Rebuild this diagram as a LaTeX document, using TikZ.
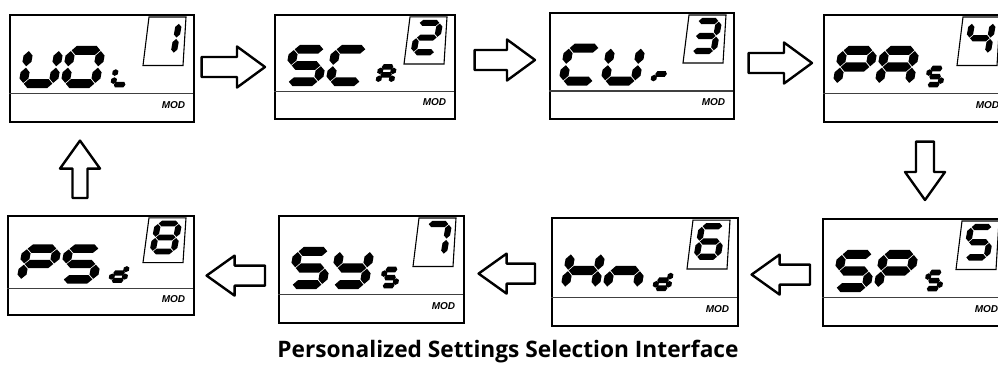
\documentclass[tikz,border=0pt]{standalone}
\usepackage{fontspec}
\setmainfont{Open Sans}
\newfontfamily\modfont{Liberation Sans}
\usetikzlibrary{calc,positioning}

\tikzset{
  lcdbox/.style={draw, line width=1.6pt, anchor=north west, inner sep=0pt},
  divider/.style={draw=black!75, line width=1.2pt},
  digitframe/.style={draw, line width=1.1pt},
  modtext/.style={font=\modfont\bfseries\itshape\fontsize{10}{10}\selectfont, inner sep=0pt},
  flowarrow/.style={draw, fill=white, line width=2.4pt, line join=round},
  caption/.style={font=\bfseries\fontsize{22.7}{27}\selectfont, inner sep=0pt}
}

% segment gap
\def\gp{0.7}
\newcommand{\hseg}[3]{\fill (#1+\gp,#3) -- (#1+\gp+\tp,#3-\st) -- (#2-\gp-\tp,#3-\st) -- (#2-\gp,#3) -- (#2-\gp-\tp,#3+\st) -- (#1+\gp+\tp,#3+\st) -- cycle;}
\newcommand{\vseg}[3]{\fill (#1,#2+\gp) -- (#1+\st,#2+\gp+\tp) -- (#1+\st,#3-\gp-\tp) -- (#1,#3-\gp) -- (#1-\st,#3-\gp-\tp) -- (#1-\st,#2+\gp+\tp) -- cycle;}
\def\lcdsega{\hseg{0}{\cw}{0}}
\def\lcdsegb{\vseg{\cw}{0}{\ch/2}}
\def\lcdsegc{\vseg{\cw}{\ch/2}{\ch}}
\def\lcdsegd{\hseg{0}{\cw}{\ch}}
\def\lcdsege{\vseg{0}{\ch/2}{\ch}}
\def\lcdsegf{\vseg{0}{0}{\ch/2}}
\def\lcdsegg{\hseg{0}{\cw}{\ch/2}}

% x, y, width, height, half thickness, tip length, segments
\newcommand{\lcdchar}[7]{%
  \begin{scope}[shift={(#1,#2)}, xslant=0.18]
    \def\cw{#3}\def\ch{#4}\def\st{#5}\def\tp{#6}
    \foreach \segname in {#7}{\csname lcdseg\segname\endcsname}
  \end{scope}}

% name, x, y, width, height, char 1, char 2, small char, digit
\newcommand{\lcdscreen}[9]{%
  \node[lcdbox, minimum width=#4, minimum height=#5] (#1) at (#2,#3) {};
  \begin{scope}[shift={(#1.north west)}, yscale=#5/106]
    \draw[divider] (0,79) -- (#4,79);
    \draw[digitframe] (#4-44,3) -- (#4-7,3) -- (#4-10,51) -- (#4-50,51) -- cycle;
    \lcdchar{20}{36}{30}{33}{4.5}{4.5}{#6}
    \lcdchar{62}{36}{30}{33}{4.5}{4.5}{#7}
    \lcdchar{107}{54}{13}{16}{2.8}{1.6}{#8}
    \lcdchar{#4-35}{9}{21}{30}{3.1}{3.1}{#9}
    \node[modtext] (#1mod) at (#4-19.5,90) {MOD};
  \end{scope}}

% tail, tip, shaft half width, head half width, head length
\newcommand{\fatarrow}[5]{%
  \coordinate (hb) at ($(#2)!#5!(#1)$);
  \draw[flowarrow] ($(#1)!#3!90:(#2)$) -- ($(hb)!#3!-90:(#1)$) -- ($(hb)!#4!-90:(#1)$) -- (#2)
    -- ($(hb)!#4!90:(#1)$) -- ($(hb)!#3!90:(#1)$) -- ($(#1)!#3!-90:(#2)$) -- cycle;}

\begin{document}
\begin{tikzpicture}[x=1pt, y=-1pt]
  \clip (0,0) rectangle (998,364);
  \fill[white] (0,0) rectangle (998,364);

  % Screens %
  \lcdscreen{s1}{9}{14}{184}{107}{b,c,d,e,f}{a,b,c,d,e,f}{d,e,f}{b,c}
  \lcdscreen{s2}{274}{14}{180}{104}{a,f,g,c,d}{a,f,e,d}{a,b,c,e,f,g}{a,b,g,e,d}
  \lcdscreen{s3}{549}{12}{184}{106}{a,f,e,d}{b,c,d,e,f}{e,g}{a,b,g,c,d}
  \lcdscreen{s4}{823}{14}{184}{107}{a,b,e,f,g}{a,b,c,e,f,g}{a,f,g,c,d}{f,g,b,c}
  \lcdscreen{s5}{822}{218}{184}{107}{a,f,g,c,d}{a,b,e,f,g}{a,f,g,c,d}{a,f,g,c,d}
  \lcdscreen{s6}{551}{217}{186}{108}{b,c,e,f,g}{c,e,g}{b,c,d,e,g}{a,f,g,e,c,d}
  \lcdscreen{s7}{278}{215}{185}{107}{a,f,g,c,d}{b,c,d,f,g}{a,f,g,c,d}{a,b,c}
  \lcdscreen{s8}{7}{215}{186}{99}{a,b,e,f,g}{a,f,g,c,d}{b,c,d,e,g}{a,b,c,d,e,f,g}

  % Arrows %
  \coordinate (t12) at ($(s1.north east)+(7,53)$);
  \coordinate (h12) at ($(s2.west|-t12)+(-9,0)$);
  \fatarrow{t12}{h12}{10pt}{20.5pt}{28pt}
  \coordinate (t23) at ($(s2.north east)+(19,46)$);
  \coordinate (h23) at ($(s3.west|-t23)+(-14,0)$);
  \fatarrow{t23}{h23}{10pt}{20.5pt}{28pt}
  \coordinate (t34) at ($(s3.north east)+(14,51)$);
  \coordinate (h34) at ($(s4.west|-t34)+(-11,0)$);
  \fatarrow{t34}{h34}{10pt}{20.5pt}{28pt}
  \coordinate (t45) at ($(s4.south west)+(102,19)$);
  \coordinate (h45) at ($(s5.north-|t45)+(0,-18)$);
  \fatarrow{t45}{h45}{9pt}{20pt}{28pt}
  \coordinate (t56) at ($(s5.south west)+(-12,-52)$);
  \coordinate (h56) at ($(s6.east|-t56)+(13,0)$);
  \fatarrow{t56}{h56}{10pt}{20pt}{28pt}
  \coordinate (t67) at ($(s6.south west)+(-16,-53)$);
  \coordinate (h67) at ($(s7.east|-t67)+(14,0)$);
  \fatarrow{t67}{h67}{10pt}{20pt}{28pt}
  \coordinate (t78) at ($(s7.south west)+(-13,-48)$);
  \coordinate (h78) at ($(s8.east|-t78)+(12,0)$);
  \fatarrow{t78}{h78}{10pt}{20pt}{28pt}
  \coordinate (t81) at ($(s8.north west)+(73,-17)$);
  \coordinate (h81) at ($(s1.south-|t81)+(0,18)$);
  \fatarrow{t81}{h81}{7.5pt}{20pt}{28pt}

  % Caption %
  \node[caption] (title) at (508,352) {Personalized Settings Selection Interface};
\end{tikzpicture}
\end{document}
